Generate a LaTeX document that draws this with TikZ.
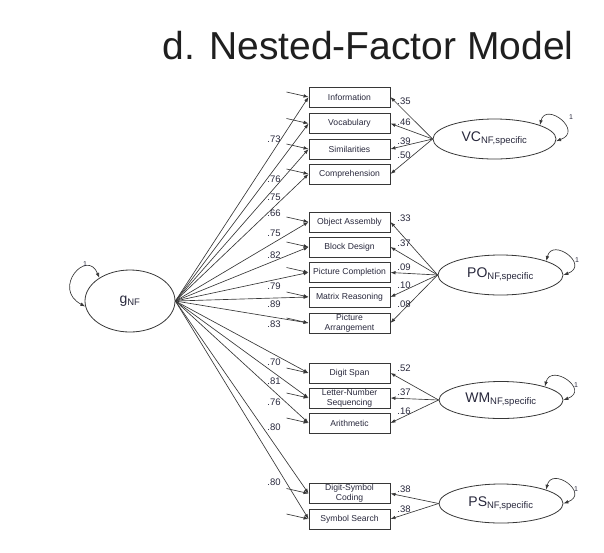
\documentclass[tikz,border=0pt]{standalone}
\usepackage{fontspec}
\setmainfont{Liberation Sans}
\usetikzlibrary{arrows.meta,shapes.geometric,calc}
\definecolor{ln}{RGB}{55,55,55}
\definecolor{tx}{RGB}{40,40,60}
\tikzset{
  ind/.style={draw=ln, line width=0.9pt, minimum width=81pt, minimum height=20pt,
    inner sep=0pt, font=\fontsize{8.6}{9.6}\selectfont, text=tx, align=center},
  lat/.style={draw=ln, ellipse, line width=0.8pt, inner sep=0pt, text=tx},
  ld/.style={-{Latex[length=5pt,width=3.6pt]}, draw=ln, line width=0.65pt},
  dbl/.style={{Latex[length=5pt,width=3.6pt]}-{Latex[length=5pt,width=3.6pt]}, draw=ln, line width=0.65pt},
  lbl/.style={font=\fontsize{9.5}{10}\selectfont, text=tx, inner sep=0pt},
  one/.style={font=\fontsize{7}{7}\selectfont, text=tx, inner sep=0pt},
}
\begin{document}
\begin{tikzpicture}[x=1pt,y=-1pt]
\useasboundingbox (0,0) rectangle (604,552);
\node[anchor=base, font=\fontsize{39}{40}\selectfont, text=black!88] (title) at (368,59) {d. Nested-Factor Model};

% latent factors
\node[lat, minimum width=90pt, minimum height=62pt, font=\fontsize{14}{14}\selectfont] (g) at (130,301) {g\textsubscript{\fontsize{9.5}{9.5}\selectfont NF}};
\node[lat, minimum width=123pt, minimum height=40pt, font=\fontsize{14}{14}\selectfont] (vc) at (494.5,139) {VC\textsubscript{\fontsize{9.5}{9.5}\selectfont NF,specific}};
\node[lat, minimum width=125pt, minimum height=40pt, font=\fontsize{14}{14}\selectfont] (po) at (500.5,275) {PO\textsubscript{\fontsize{9.5}{9.5}\selectfont NF,specific}};
\node[lat, minimum width=124pt, minimum height=37pt, font=\fontsize{14}{14}\selectfont] (wm) at (501,400) {WM\textsubscript{\fontsize{9.5}{9.5}\selectfont NF,specific}};
\node[lat, minimum width=124pt, minimum height=39pt, font=\fontsize{14}{14}\selectfont] (ps) at (501,503.5) {PS\textsubscript{\fontsize{9.5}{9.5}\selectfont NF,specific}};

% indicators
\foreach \i/\y/\t/\f in {1/97/Information/vc, 2/123.5/Vocabulary/vc, 3/149/Similarities/vc, 4/174/Comprehension/vc,
  5/222/Object Assembly/po, 6/247/Block Design/po, 7/272.5/Picture Completion/po, 8/297/Matrix Reasoning/po,
  9/323/{Picture\\Arrangement}/po, 10/373/Digit Span/wm, 11/398/{Letter-Number\\Sequencing}/wm,
  12/423/Arithmetic/wm, 13/493.5/{Digit-Symbol\\Coding}/ps, 14/519/Symbol Search/ps}{
  \node[ind] (b\i) at (349.5,\y) {\t};
  \coordinate (e\i) at ($(b\i.west)+(-22,-5)$);
  \draw[ld] (e\i) -- (b\i.west);
  \draw[ld] (g.east) -- (b\i.west);
  \draw[ld] (\f.west) -- (b\i.east);
}

% general loadings
\foreach \v/\y [count=\k] in {.73/139,.76/179,.75/197,.66/213,.75/233,.82/255,.79/286,.89/304,.83/324,.70/362,.81/381,.76/402,.80/427,.80/482}{
  \node[lbl] (gl\k) at (274,\y) {\v};
}
% specific loadings
\foreach \v/\y [count=\k] in {.35/101,.46/122,.39/141,.50/155,.33/218,.37/243,.09/267,.10/285,.08/304,.52/368,.37/392,.16/411,.38/489,.38/509}{
  \node[lbl] (sl\k) at (404,\y) {\v};
}

% variance loops
\draw[dbl] (g.143) .. controls +(-12,-30) and +(-34,-18) .. (g.187);
\node[one] (g1) at (85,264) {1};
\draw[dbl] (vc.17) .. controls +(6,-24) and +(28,-10) .. (vc.-2);
\node[one] (vc1) at (571,117) {1};
\draw[dbl] (po.17) .. controls +(6,-24) and +(27,-10) .. (po.0);
\node[one] (po1) at (577,260) {1};
\draw[dbl] (wm.17) .. controls +(6,-24) and +(27,-10) .. (wm.0);
\node[one] (wm1) at (576,385) {1};
\draw[dbl] (ps.17) .. controls +(6,-24) and +(27,-10) .. (ps.0);
\node[one] (ps1) at (576,489) {1};
\end{tikzpicture}
\end{document}
